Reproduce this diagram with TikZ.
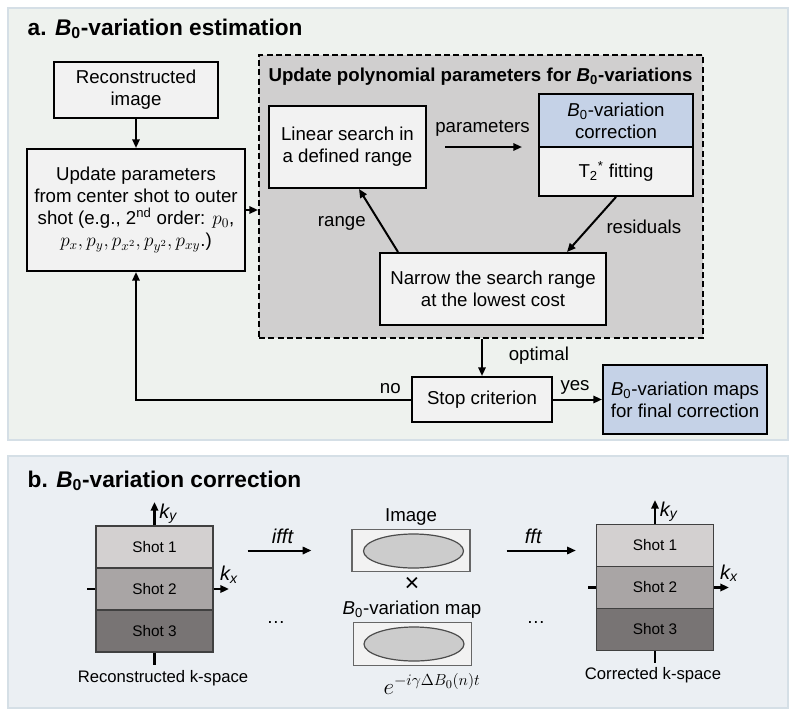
\documentclass[tikz,border=0pt]{standalone}
\usepackage{fontspec}
\setmainfont{Liberation Sans}
\usepackage{tikz}
\usetikzlibrary{calc, arrows.meta, shapes.geometric}

\definecolor{boxfill}{HTML}{F2F2F2}
\definecolor{panelA}{HTML}{EEF2EE}
\definecolor{panelB}{HTML}{EBEFF3}
\definecolor{panelline}{HTML}{D5DFE6}
\definecolor{polyfill}{HTML}{D0CFCF}
\definecolor{bluefill}{HTML}{C5D2E7}
\definecolor{shotA}{HTML}{D3D0D0}
\definecolor{shotB}{HTML}{A9A5A5}
\definecolor{shotC}{HTML}{787474}

\begin{document}
\begin{tikzpicture}[x=0.75pt, y=-0.75pt,
   font=\fontsize{14}{16.5}\selectfont,
   panel/.style = {draw=panelline, line width=1.2pt},
   title/.style = {font=\fontsize{17}{19}\selectfont\bfseries, anchor=base west},
   box/.style = {draw, line width=1.5pt, fill=boxfill, align=center, inner sep=0pt},
   arr/.style = {-{Triangle[length=6.5pt, width=5.5pt]}, line width=1.5pt},
   axis/.style = {line width=1.9pt},
   shot/.style = {draw=black!75, line width=1pt, inner sep=0pt,
                  minimum width=87.75pt, minimum height=31.5pt,
                  font=\fontsize{11.5}{13}\selectfont},
   img/.style = {draw=black!60, line width=0.9pt, fill=boxfill, inner sep=0pt,
                 minimum width=88.5pt, minimum height=32pt},
   blob/.style = {ellipse, draw=black!70, line width=0.9pt, fill=black!20,
                  inner sep=0pt, minimum width=75pt, minimum height=25.5pt},
   klab/.style = {font=\fontsize{15}{17}\selectfont\itshape, inner sep=1pt},
   kcap/.style = {font=\fontsize{12.5}{14}\selectfont}]
   \useasboundingbox (0,0) rectangle (800,722);
   \fill[white] (0,0) rectangle (800,722);
   \draw[panel, fill=panelA] (8,8) rectangle (788,440);
   \draw[panel, fill=panelB] (8,456) rectangle (788,708);

   % a. estimation
   \node[title] (ta) at (23,35) {a. \textit{B}\textsubscript{0}-variation estimation};

   \node[box, minimum width=123pt, minimum height=42pt] (rec) at (136,90)
      {Reconstructed\\image};
   \node[box, minimum width=163.5pt, minimum height=91.5pt] (par) at (136,210)
      {Update parameters\\from center shot to outer\\
       shot (e.g., 2\textsuperscript{nd} order: $p_0$,\\
       $p_x, p_y, p_{x^2}, p_{y^2}, p_{xy}$.)};

   \node[draw, line width=1.5pt, dash pattern=on 4.5pt off 2.5pt, fill=polyfill,
      minimum width=333pt, minimum height=212.25pt] (poly) at (481,196.5) {};
   \node[font=\fontsize{14}{16}\selectfont\bfseries] (tpoly) at (480.5,77)
      {Update polynomial parameters for \textit{B}\textsubscript{0}-variations};

   \node[box, minimum width=117.75pt, minimum height=61.5pt] (lin) at (347.5,147)
      {Linear search in\\a defined range};
   \node[box, fill=bluefill, minimum width=115.5pt, minimum height=39.75pt] (cor) at (616,120.5)
      {\textit{B}\textsubscript{0}-variation\\correction};
   \node[box, minimum width=115.5pt, minimum height=36.75pt] (fit) at (616,171.5)
      {T\textsubscript{2}\textsuperscript{*} fitting};
   \node[box, minimum width=169.5pt, minimum height=54pt] (nar) at (493,289)
      {Narrow the search range\\at the lowest cost};

   \node[box, minimum width=105pt, minimum height=33.75pt] (stp) at (482,399.5)
      {Stop criterion};
   \node[box, fill=bluefill, minimum width=123pt, minimum height=51.75pt] (map) at (685,399.5)
      {\textit{B}\textsubscript{0}-variation maps\\for final correction};

   \draw[arr] (rec) -- (par);
   \draw[arr] (par.east) -- (par.east -| poly.west);
   \draw[arr, shorten <=13.5pt, shorten >=12pt] (lin.east) --
      node[above=4pt]{parameters} (lin.east -| cor.west);
   \draw[arr] (fit.south) -- node[right=9pt, pos=0.55]{residuals} ($(nar.north)+(74,0)$);
   \draw[arr] ($(nar.north)+(-95,0)$) -- node[left=7pt, pos=0.45]{range} ($(lin.south)+(11.5,0)$);
   %
   \draw[arr] (stp.north |- poly.south) -- node[right=16pt, pos=0.45]{optimal} (stp.north);
   \draw[arr] (stp.east) -- node[above, pos=0.45]{yes} (map.west);
   \draw[arr] (stp.west) -- node[above, pos=0.075]{no} (stp.west -| par.south) -- (par.south);

   % b. correction
   \node[title] (tb) at (23,487) {b. \textit{B}\textsubscript{0}-variation correction};

   \node[shot, fill=shotA] (k1) at (154.5,547) {Shot 1};
   \node[shot, fill=shotB] (k2) at (154.5,589) {Shot 2};
   \node[shot, fill=shotC] (k3) at (154.5,631) {Shot 3};
   \coordinate (kyL) at (154.5,502);
   \coordinate (kxL) at (229,589);
   \coordinate (kwL) at (87,589);
   \coordinate (kbL) at (154.5,665);
   \draw[arr, line width=1.9pt] (k1.north) -- (kyL);
   \draw[arr, line width=1.9pt] (k2.east) -- (kxL);
   \draw[axis] (kwL) -- (k2.west);
   \draw[axis] (k3.south) -- (kbL);
   \node[klab, anchor=north west] at ([xshift=2.5pt]kyL) {k\textsubscript{y}};
   \node[klab, anchor=south] at ([yshift=3pt]kxL) {k\textsubscript{x}};
   \node[kcap] (capL) at (163,678) {Reconstructed k-space};

   \node[shot, fill=shotA] (c1) at (655,545.5) {Shot 1};
   \node[shot, fill=shotB] (c2) at (655,587.5) {Shot 2};
   \node[shot, fill=shotC] (c3) at (655,629.5) {Shot 3};
   \coordinate (kyR) at (655,500);
   \coordinate (kxR) at (729,587.5);
   \coordinate (kwR) at (588,587.5);
   \coordinate (kbR) at (655,663);
   \draw[arr, line width=1.9pt] (c1.north) -- (kyR);
   \draw[arr, line width=1.9pt] (c2.east) -- (kxR);
   \draw[axis] (kwR) -- (c2.west);
   \draw[axis] (c3.south) -- (kbR);
   \node[klab, anchor=north west] at ([xshift=2.5pt]kyR) {k\textsubscript{y}};
   \node[klab, anchor=south] at ([yshift=3pt]kxR) {k\textsubscript{x}};
   \node[kcap] (capR) at (653,675) {Corrected k-space};

   \node (timg) at (411,517) {Image};
   \node[img] (im) at (411,550.5) {};
   \node[blob] (imE) at (413.5,551) {};
   \node[font=\fontsize{19}{20}\selectfont, inner sep=0pt] (times) at (412,584) {×};
   \node (tmap) at (412,610) {\textit{B}\textsubscript{0}-variation map};
   \node[img] (bm) at (412.5,644) {};
   \node[blob] (bmE) at (414,644) {};
   \node[font=\fontsize{18}{20}\selectfont] (ph) at (432,684) {$e^{-i\gamma\Delta B_0(n)t}$};

   \draw[arr, shorten <=25.5pt, shorten >=30pt] (k1.east |- im.west) --
      node[above=3pt, klab]{ifft} (im.west);
   \draw[arr, shorten <=27pt, shorten >=15pt] (im.east) --
      node[above=3pt, klab]{fft} (im.east -| c1.west);

   \node (dotL) at (276,622) {\dots};
   \node (dotR) at (536,622) {\dots};
\end{tikzpicture}
\end{document}
